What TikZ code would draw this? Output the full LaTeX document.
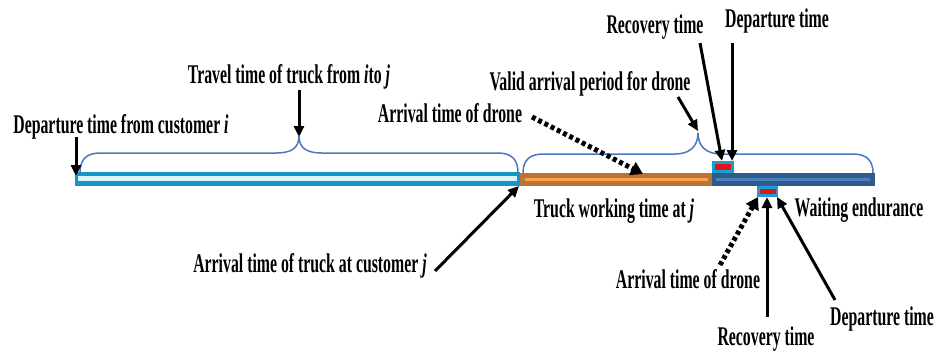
\documentclass[tikz,border=0pt]{standalone}
\usepackage{fontspec}
\setmainfont{Liberation Serif}[FakeStretch=0.585]
\usetikzlibrary{arrows.meta}
\definecolor{tealout}{HTML}{1198C4}
\definecolor{tealin}{HTML}{DDF2FA}
\definecolor{orout}{HTML}{BD7232}
\definecolor{orin}{HTML}{F7A24C}
\definecolor{blout}{HTML}{2E5A8D}
\definecolor{blin}{HTML}{4D80BF}
\definecolor{boxteal}{HTML}{17A0CF}
\definecolor{boxred}{HTML}{E8101A}
\definecolor{braceblue}{HTML}{4A78C0}
\begin{document}
\begin{tikzpicture}[x=1pt,y=-1pt,
  lab/.style={font=\fontsize{27}{30}\selectfont\bfseries, inner sep=0pt, anchor=base},
  arr/.style={line width=3pt,-{Triangle[length=11pt,width=10pt]}},
  darr/.style={line width=5pt, dash pattern=on 4pt off 3pt, -{Triangle[length=12pt,width=14pt]}},
  bracestyle/.style={draw=braceblue, line width=1.5pt}]
\fill[white] (0,0) rectangle (935,351);
\useasboundingbox (0,0) rectangle (935,351);

% bar
\fill[tealout] (75,172) rectangle (520,186);
\fill[tealin] (78,176) rectangle (517,181);
\fill[orout] (520,172.5) rectangle (712,185.5);
\fill[orin] (525,177.5) rectangle (708,181);
\fill[blout] (712,172.5) rectangle (875,186);
\fill[blin] (716,177.5) rectangle (870,180.5);
\fill[boxteal] (711.5,161) rectangle (734,172.5);
\fill[boxred] (715,164) rectangle (731,169.5);
\fill[boxteal] (757,186) rectangle (778,197);
\fill[boxred] (760,189) rectangle (776,194);

% braces
\draw[bracestyle] (80,173) .. controls (80,160) and (86,153) .. (100,153) -- (276,153)
  .. controls (290,153) and (299,149) .. (299,136)
  .. controls (299,149) and (308,153) .. (322,153) -- (498,153)
  .. controls (512,153) and (518,160) .. (518,173);
\draw[bracestyle] (523,173) .. controls (523,161) and (529,154) .. (543,154) -- (675,154)
  .. controls (689,154) and (698,147) .. (698,133)
  .. controls (698,147) and (707,154) .. (721,154) -- (853,154)
  .. controls (867,154) and (873,161) .. (873,173);

% labels
\node[lab] (depi) at (121,133) {Departure time from customer \textit{i}};
\node[lab] (travel) at (289,83) {Travel time of truck from \textit{i}to \textit{j}};
\node[lab] (arrdu) at (450,122) {Arrival time of drone};
\node[lab] (valid) at (590,90) {Valid arrival period for drone};
\node[lab] (recu) at (655,33) {Recovery time};
\node[lab] (depu) at (777,27) {Departure time};
\node[lab] (truckw) at (614,217) {Truck working time at \textit{j}};
\node[lab] (wait) at (859,216) {Waiting endurance};
\node[lab] (arrdl) at (688,288) {Arrival time of drone};
\node[lab] (depl) at (882,325) {Departure time};
\node[lab] (recl) at (766,345) {Recovery time};
\node[lab] (arrj) at (310,272) {Arrival time of truck at customer \textit{j}};

% arrow endpoints
\coordinate (a1s) at (76,137);   \coordinate (a1e) at (76,176);
\coordinate (a2s) at (299,90);   \coordinate (a2e) at (299,137);
\coordinate (a3s) at (532,117);  \coordinate (a3e) at (643,174);
\coordinate (a4s) at (678,97);   \coordinate (a4e) at (698,131);
\coordinate (a5s) at (700,43);   \coordinate (a5e) at (722,161);
\coordinate (a6s) at (732,43);   \coordinate (a6e) at (732,161);
\coordinate (a7s) at (435,271);  \coordinate (a7e) at (519,186);
\coordinate (a8s) at (720,265);  \coordinate (a8e) at (758,197);
\coordinate (a9s) at (767,317);  \coordinate (a9e) at (767,197);
\coordinate (a10s) at (835,300); \coordinate (a10e) at (777,197);

\draw[arr] (a1s) -- (a1e);
\draw[arr] (a2s) -- (a2e);
\draw[darr] (a3s) -- (a3e);
\draw[arr] (a4s) -- (a4e);
\draw[arr] (a5s) -- (a5e);
\draw[arr] (a6s) -- (a6e);
\draw[arr] (a7s) -- (a7e);
\draw[darr] (a8s) -- (a8e);
\draw[arr] (a9s) -- (a9e);
\draw[arr] (a10s) -- (a10e);
\end{tikzpicture}
\end{document}
